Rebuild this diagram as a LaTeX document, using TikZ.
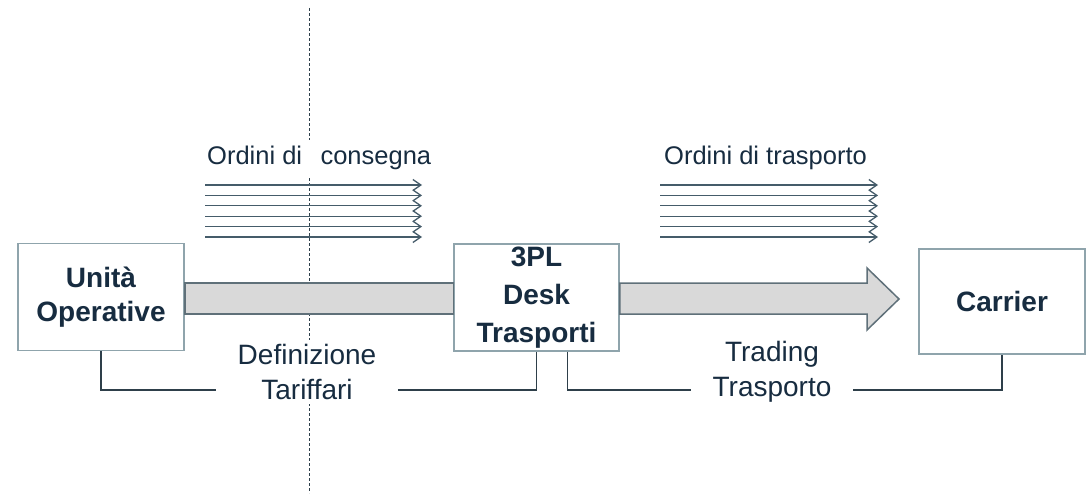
\documentclass[tikz,border=0pt]{standalone}
\usepackage{fontspec}
\setmainfont{Liberation Sans}
\usetikzlibrary{arrows.meta}
\definecolor{textcol}{HTML}{172C40}
\definecolor{boxline}{HTML}{8FA4AC}
\definecolor{barfill}{HTML}{D9D9D9}
\definecolor{barline}{HTML}{5F7079}
\definecolor{orderline}{HTML}{455C6A}
\definecolor{linkline}{HTML}{2E3F4A}

\begin{document}
\begin{tikzpicture}[x=1pt,y=-1pt,
    unit/.style={draw=boxline,line width=1.5pt,fill=white,text=textcol,align=center,
        font=\fontsize{28}{34}\selectfont\bfseries,inner sep=0pt},
    label/.style={fill=white,text=textcol,align=center,font=\fontsize{28}{35}\selectfont,
        inner xsep=21.5pt,inner ysep=4pt},
    orders/.style={fill=white,text=textcol,font=\fontsize{25.5}{28}\selectfont,inner sep=6pt},
    bar/.style={draw=barline,fill=barfill,line width=1.5pt},
    order/.style={draw=orderline,line width=1.3pt,-{Straight Barb[length=8pt,width=11pt]}},
    link/.style={draw=linkline,line width=1.4pt}]
    \useasboundingbox (0,0) rectangle (1089,495);
    \draw[linkline,line width=0.9pt,dash pattern=on 3pt off 2pt] (309,8) -- (309,493); % trennlinje
    \coordinate (bartop) at (0,283);
    \coordinate (barbot) at (0,314);
    \coordinate (brk) at (0,390);
    \coordinate (tip) at (899,299);
    \node[unit,minimum width=166,minimum height=107] (uo) at (101,297) {Unità\\Operative};
    \node[unit,minimum width=165,minimum height=107,font=\fontsize{28}{38}\selectfont\bfseries] (desk) at (536.5,297.5) {3PL\\Desk\\Trasporti};
    \node[unit,minimum width=166,minimum height=105] (car) at (1002,301.5) {Carrier};
    \filldraw[bar] (uo.east |- bartop) rectangle (desk.west |- barbot); % smal pil
    \filldraw[bar] (desk.east |- bartop) -- (867,283) -- (867,268) -- (tip)
        -- (867,330) -- (867,314) -- (desk.east |- barbot) -- cycle; % stor pil
    \foreach \i in {0,...,5} {
        \draw[order] (205,185+10.4*\i) -- (422,185+10.4*\i);
        \draw[order] (660,185+10.4*\i) -- (878,185+10.4*\i);
    }
    \node[orders,anchor=west] (cons) at (201,158) {Ordini di\ \ \,consegna};
    \node[orders,anchor=west] (trasp) at (658,158) {Ordini di trasporto};
    \node[label] (def) at (307,372) {Definizione\\Tariffari};
    \node[label] (trad) at (772,372) {Trading\\Trasporto};
    \draw[link] (uo.south) |- (def.west |- brk);
    \draw[link] (def.east |- brk) -| (desk.south);
    \draw[link] ([xshift=31]desk.south) |- (trad.west |- brk);
    \draw[link] (trad.east |- brk) -| (car.south);
\end{tikzpicture}
\end{document}
